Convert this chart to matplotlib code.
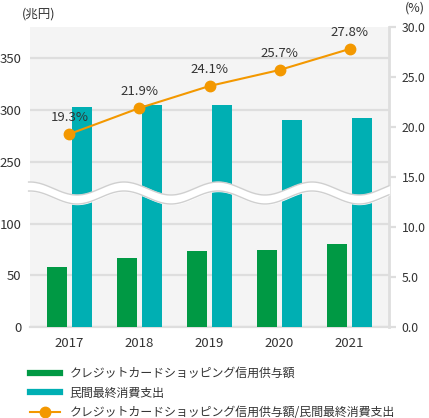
import numpy as np
import matplotlib
matplotlib.use("Agg")
import matplotlib.pyplot as plt
from matplotlib.lines import Line2D

plt.rcParams['font.family'] = ['Noto Sans CJK JP', 'DejaVu Sans']

# data
years = ['2017', '2018', '2019', '2020', '2021']
credit = [58.4, 66.7, 73.4, 74.7, 81.0]          # 兆円
consumption = [302.6, 304.9, 304.6, 290.4, 292.0]  # 兆円
ratio = [19.3, 21.9, 24.1, 25.7, 27.8]            # %

lower_ticks = [0, 50, 100]
upper_ticks = [250, 300, 350]
pct_ticks = [0, 5, 10, 15, 20, 25, 30]

GREEN = '#009944'
TEAL = '#00afb3'
ORANGE = '#f39800'
BG = '#f4f4f4'
GRID = '#dedede'
TXT = '#333333'

W, H = 429, 418
fig = plt.figure(figsize=(W / 100, H / 100), dpi=100)

left, right = 30, 389
top, bottom, brk = 27, 327, 193


def box(y0, y1):
    return [left / W, (H - y1) / H, (right - left) / W, (y1 - y0) / H]


ax_lo = fig.add_axes(box(brk, bottom))
ax_hi = fig.add_axes(box(top, brk))
ax_pct = fig.add_axes(box(top, bottom))

x = np.arange(len(years))
bw = 0.286
off = 0.179
xlim = (-0.564, len(years) - 1 + 0.564)

for ax, lim, ticks in [(ax_lo, (0, 130), lower_ticks), (ax_hi, (220, 380), upper_ticks)]:
    ax.set_facecolor(BG)
    ax.bar(x - off, credit, width=bw, color=GREEN, zorder=3)
    ax.bar(x + off, consumption, width=bw, color=TEAL, zorder=3)
    ax.set_xlim(*xlim)
    ax.set_ylim(*lim)
    ax.set_yticks(ticks)
    ax.yaxis.grid(True, color=GRID, lw=1.6, zorder=1)
    ax.set_axisbelow(True)
    for s in ax.spines.values():
        s.set_visible(False)
    ax.tick_params(axis='y', length=0, pad=6, labelsize=9.5, labelcolor=TXT)
    ax.tick_params(axis='x', length=0)

ax_hi.set_xticks([])
ax_lo.set_xticks(x)
ax_lo.set_xticklabels(years)
ax_lo.tick_params(axis='x', pad=7, labelsize=9.5, labelcolor=TXT)
ax_lo.spines['bottom'].set_visible(True)
ax_lo.spines['bottom'].set_color(GRID)
ax_lo.spines['bottom'].set_linewidth(1.6)

# percent axis
ax_pct.patch.set_alpha(0)
ax_pct.set_xlim(*xlim)
ax_pct.set_ylim(0, 30)
for k, s in ax_pct.spines.items():
    s.set_visible(k == 'right')
ax_pct.spines['right'].set_color(GRID)
ax_pct.spines['right'].set_linewidth(2)
ax_pct.set_xticks([])
ax_pct.yaxis.tick_right()
ax_pct.set_yticks(pct_ticks)
ax_pct.set_yticklabels([f'{v:.1f}' for v in pct_ticks])
ax_pct.tick_params(axis='y', length=5, width=1.6, color=GRID, pad=4,
                   labelsize=8.8, labelcolor=TXT)

# break wave
wx = np.linspace(xlim[0] - 0.02, xlim[1], 300)
px = (wx - xlim[0]) / (xlim[1] - xlim[0]) * (right - left)
wy = 13.4 + 0.65 * np.cos(2 * np.pi * (px - 0) / 94)
ax_pct.fill_between(wx, wy - 0.45, wy + 0.45, color='white', zorder=5, clip_on=False)
ax_pct.plot(wx, wy - 0.45, color='#cfcfcf', lw=1, zorder=6, clip_on=False)
ax_pct.plot(wx, wy + 0.45, color='#cfcfcf', lw=1, zorder=6, clip_on=False)

ax_pct.plot(x, ratio, color=ORANGE, lw=1.5, marker='o', markersize=7.5, zorder=8)
for xi, r in zip(x, ratio):
    ax_pct.annotate(f'{r}%', (xi, r), xytext=(0, 12), textcoords='offset points',
                    ha='center', va='center', fontsize=9.5, color=TXT, zorder=9)

fig.text(22 / W, 1 - 14 / H, '(兆円)', ha='left', va='center', fontsize=9, color=TXT)
fig.text(425 / W, 1 - 8 / H, '(%)', ha='right', va='center', fontsize=9, color=TXT)

handles = [
    Line2D([], [], color=GREEN, lw=4.5),
    Line2D([], [], color=TEAL, lw=4.5),
    Line2D([], [], color=ORANGE, lw=1.5, marker='o', markersize=7.5),
]
labels = ['クレジットカードショッピング信用供与額', '民間最終消費支出',
          'クレジットカードショッピング信用供与額/民間最終消費支出']
fig.legend(handles, labels, loc='upper left', bbox_to_anchor=(24 / W, 1 - 361 / H),
           frameon=False, fontsize=8.6, handlelength=2.5, handletextpad=0.8,
           labelspacing=0.55, borderpad=0, labelcolor=TXT)

fig.savefig('out.png', dpi=100)
